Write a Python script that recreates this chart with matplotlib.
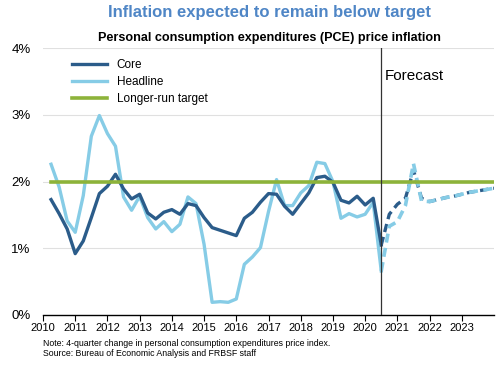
import matplotlib
matplotlib.use("Agg")
import matplotlib.pyplot as plt

plt.rcParams['font.family'] = ['Liberation Sans', 'DejaVu Sans']

# quarterly history, 2010Q2 .. 2020Q2 (plotted at 2010.25 .. 2020.5)
hist_start = 2010.25
core = [1.73, 1.52, 1.29, 0.92, 1.11, 1.46, 1.82, 1.93, 2.11, 1.89, 1.74, 1.81,
        1.53, 1.44, 1.54, 1.58, 1.51, 1.67, 1.64, 1.46, 1.31, 1.27, 1.23, 1.19,
        1.45, 1.54, 1.69, 1.82, 1.81, 1.63, 1.51, 1.67, 1.83, 2.06, 2.08, 1.99,
        1.72, 1.68, 1.78, 1.65, 1.75, 1.05]
headline = [2.26, 1.92, 1.41, 1.24, 1.79, 2.68, 2.99, 2.72, 2.53, 1.77, 1.57, 1.78,
            1.46, 1.29, 1.40, 1.25, 1.36, 1.77, 1.67, 1.06, 0.19, 0.20, 0.19, 0.24,
            0.76, 0.87, 1.01, 1.55, 2.03, 1.64, 1.64, 1.83, 1.94, 2.29, 2.27, 2.00,
            1.45, 1.52, 1.47, 1.51, 1.69, 0.66]

# forecast from 2020.5 to 2024.0
fc_start = 2020.5
core_fc = [1.05, 1.51, 1.66, 1.75, 2.17, 1.75, 1.70, 1.73, 1.76, 1.78, 1.81,
           1.84, 1.86, 1.88, 1.90]
headline_fc = [0.66, 1.33, 1.40, 1.64, 2.27, 1.71, 1.70, 1.73, 1.76, 1.78, 1.81,
               1.84, 1.86, 1.88, 1.90]

target = 2.0
years = list(range(2010, 2024))
yticks = [0, 1, 2, 3, 4]

dark = '#2b5c8a'
light = '#86cce6'
green = '#8db33a'

x_hist = [hist_start + 0.25 * i for i in range(len(core))]
x_fc = [fc_start + 0.25 * i for i in range(len(core_fc))]

fig = plt.figure(figsize=(5, 3.65), dpi=100)
ax = fig.add_axes([0.086, 0.137, 0.902, 0.731])

for y in yticks[1:]:
    ax.axhline(y, color='#e0e0e0', lw=0.8, zorder=0)

ax.plot(x_hist, core, color=dark, lw=2.4, label='Core', zorder=3)
ax.plot(x_hist, headline, color=light, lw=2.4, label='Headline', zorder=2)
ax.plot([hist_start, 2024], [target, target], color=green, lw=2.6,
        label='Longer-run target', zorder=4)
ax.plot(x_fc, core_fc, color=dark, lw=2.4, ls=(0, (2.5, 1.5)), zorder=3)
ax.plot(x_fc, headline_fc, color=light, lw=2.6, ls=(0, (2.5, 1.5)), zorder=3.5)

ax.axvline(2020.5, color='#333333', lw=0.9, zorder=5)
ax.text(2020.62, 3.58, 'Forecast', fontsize=11, va='center', ha='left')

ax.set_xlim(2010, 2024)
ax.set_ylim(0, 4)
ax.set_xticks(years)
ax.set_xticklabels([str(y) for y in years], fontsize=8)
ax.set_yticks(yticks)
ax.set_yticklabels([f'{y}%' for y in yticks], fontsize=9.5)
ax.tick_params(axis='y', length=0, pad=9)
ax.tick_params(axis='x', length=4, direction='out', pad=2, color='black')
for s in ['left', 'right', 'top']:
    ax.spines[s].set_visible(False)
ax.spines['bottom'].set_color('black')
ax.spines['bottom'].set_linewidth(1.0)

leg = ax.legend(loc='upper left', bbox_to_anchor=(0.04, 1.0), frameon=False,
                fontsize=8.5, handlelength=3.0, handletextpad=0.8, labelspacing=0.45)

fig.text(0.538, 0.965, 'Inflation expected to remain below target', ha='center',
         va='center', fontsize=12, fontweight='bold', color='#4f86c6')
fig.text(0.538, 0.895, 'Personal consumption expenditures (PCE) price inflation',
         ha='center', va='center', fontsize=9.1, fontweight='bold')
fig.text(0.086, 0.06, 'Note: 4-quarter change in personal consumption expenditures price index.',
         fontsize=6.3, va='center')
fig.text(0.086, 0.031, 'Source: Bureau of Economic Analysis and FRBSF staff',
         fontsize=6.3, va='center')

fig.savefig('out.png', dpi=100)
